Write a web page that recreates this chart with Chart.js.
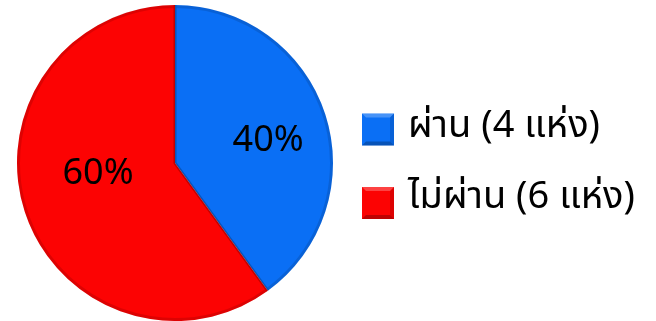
<!DOCTYPE html>
<html>
<head>
<meta charset="utf-8">
<script src="https://cdn.jsdelivr.net/npm/chart.js@4/dist/chart.umd.min.js"></script>
<style>
  html, body { margin: 0; padding: 0; background: #ffffff; }
  #wrap { position: relative; width: 656px; height: 321px; }
</style>
</head>
<body>
<div id="wrap"><canvas id="c" width="656" height="321"></canvas></div>
<script>
// Inspection results: number of sites that passed / did not pass
const categories = ['ผ่าน (4 แห่ง)', 'ไม่ผ่าน (6 แห่ง)'];
const siteCounts = [4, 6];
const sliceColors = ['#0a6ff5', '#fc0303'];

const FONT = "'Noto Sans Thai', 'Noto Sans', 'DejaVu Sans', sans-serif";

// Percentage labels inside each slice (angle shift in degrees, radius fraction)
const labelPlacement = [
  { shift: 3, ratio: 0.61 },
  { shift: 12, ratio: 0.49 }
];

const percentLabels = {
  id: 'percentLabels',
  afterDatasetsDraw(chart) {
    const ctx = chart.ctx;
    const meta = chart.getDatasetMeta(0);
    const values = chart.data.datasets[0].data;
    const total = values.reduce((a, b) => a + b, 0);
    ctx.save();
    ctx.font = '36px ' + FONT;
    ctx.fillStyle = '#000';
    ctx.textAlign = 'center';
    ctx.textBaseline = 'alphabetic';
    meta.data.forEach((arc, i) => {
      const p = arc.getProps(['x', 'y', 'startAngle', 'endAngle', 'outerRadius'], true);
      const pl = labelPlacement[i];
      const mid = (p.startAngle + p.endAngle) / 2 + pl.shift * Math.PI / 180;
      const r = p.outerRadius * pl.ratio;
      const pct = Math.round(values[i] / total * 100) + '%';
      ctx.fillText(pct, p.x + Math.cos(mid) * r, p.y + Math.sin(mid) * r + 13);
    });
    ctx.restore();
  }
};

// Slight bevel around each slice edge
const bevel = {
  id: 'bevel',
  afterDatasetsDraw(chart) {
    const ctx = chart.ctx;
    const meta = chart.getDatasetMeta(0);
    ctx.save();
    meta.data.forEach((arc) => {
      const p = arc.getProps(['x', 'y', 'startAngle', 'endAngle', 'outerRadius'], true);
      ctx.beginPath();
      ctx.moveTo(p.x, p.y);
      ctx.arc(p.x, p.y, p.outerRadius - 1.5, p.startAngle, p.endAngle);
      ctx.closePath();
      ctx.strokeStyle = 'rgba(0,0,0,0.12)';
      ctx.lineWidth = 3;
      ctx.stroke();
    });
    ctx.restore();
  }
};

// Legend with bevelled swatches on the right
const sideLegend = {
  id: 'sideLegend',
  afterDraw(chart) {
    const ctx = chart.ctx;
    const colors = chart.data.datasets[0].backgroundColor;
    const rows = [129.5, 203];
    const baselines = [137, 208];
    ctx.save();
    chart.data.labels.forEach((label, i) => {
      const x = 362, y = rows[i] - 16, s = 32;
      ctx.fillStyle = colors[i];
      ctx.fillRect(x, y, s, s);
      // bevel edges
      ctx.fillStyle = 'rgba(255,255,255,0.25)';
      ctx.beginPath(); ctx.moveTo(x, y); ctx.lineTo(x + s, y); ctx.lineTo(x + s - 4, y + 4); ctx.lineTo(x + 4, y + 4); ctx.closePath(); ctx.fill();
      ctx.fillStyle = 'rgba(0,0,0,0.25)';
      ctx.beginPath(); ctx.moveTo(x, y + s); ctx.lineTo(x + s, y + s); ctx.lineTo(x + s - 4, y + s - 4); ctx.lineTo(x + 4, y + s - 4); ctx.closePath(); ctx.fill();
      ctx.fillStyle = 'rgba(0,0,0,0.12)';
      ctx.beginPath(); ctx.moveTo(x + s, y); ctx.lineTo(x + s, y + s); ctx.lineTo(x + s - 4, y + s - 4); ctx.lineTo(x + s - 4, y + 4); ctx.closePath(); ctx.fill();
      ctx.fillStyle = '#000';
      ctx.font = '38px ' + FONT;
      ctx.textAlign = 'left';
      ctx.textBaseline = 'alphabetic';
      ctx.fillText(label, 408, baselines[i]);
    });
    ctx.restore();
  }
};

new Chart(document.getElementById('c'), {
  type: 'pie',
  data: {
    labels: categories,
    datasets: [{
      data: siteCounts,
      backgroundColor: sliceColors,
      borderWidth: 0
    }]
  },
  options: {
    responsive: false,
    animation: false,
    layout: { padding: { left: 17, top: 5, right: 323, bottom: 0 } },
    plugins: {
      legend: { display: false },
      tooltip: { enabled: false }
    }
  },
  plugins: [bevel, percentLabels, sideLegend]
});
</script>
</body>
</html>
